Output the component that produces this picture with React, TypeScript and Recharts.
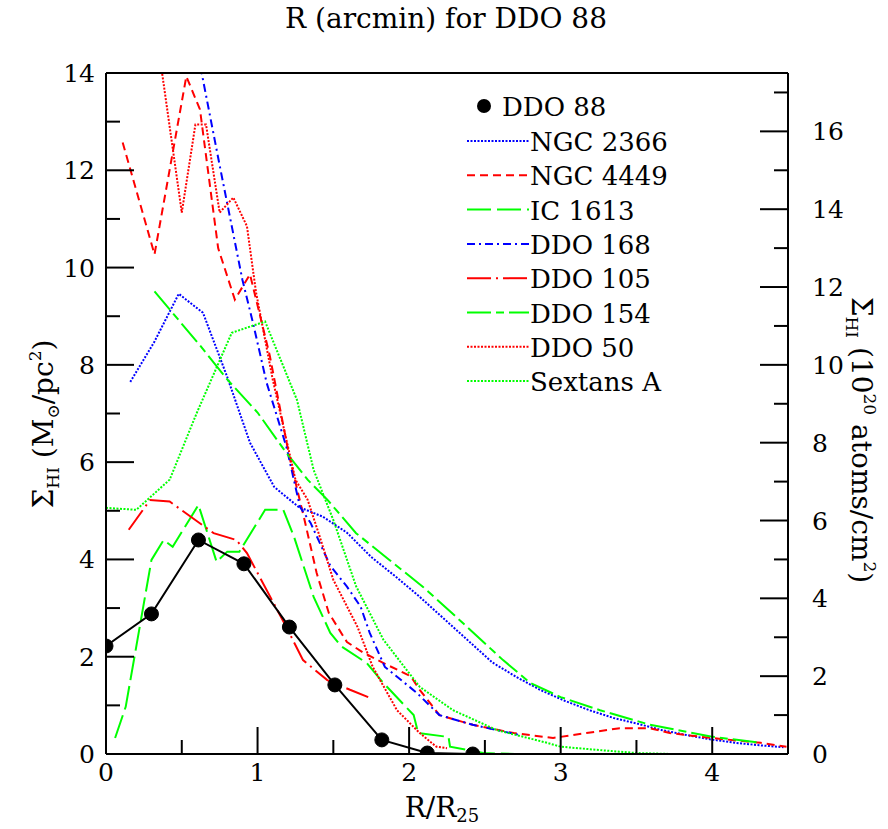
import React from "react";
import { LineChart, Line, XAxis, YAxis, Legend } from "recharts";

// R/R25 and Sigma_HI (Msun/pc^2), one pair of arrays per galaxy
const ddo88X = [0, 0.3, 0.61, 0.91, 1.21, 1.51, 1.82, 2.12, 2.42];
const ddo88Y = [2.22, 2.88, 4.4, 3.91, 2.61, 1.42, 0.29, 0.02, 0.0];

const ngc2366X = [0.16, 0.32, 0.48, 0.64, 0.8, 0.95, 1.11, 1.27, 1.43, 1.59, 1.75, 1.91, 2.07, 2.23, 2.39, 2.55, 2.71, 2.87, 3.03, 3.19, 3.35, 3.51, 3.67, 3.83, 3.99, 4.15, 4.31, 4.47];
const ngc2366Y = [7.65, 8.48, 9.46, 9.07, 7.75, 6.4, 5.49, 5.08, 4.88, 4.55, 4.05, 3.65, 3.23, 2.78, 2.33, 1.88, 1.58, 1.31, 1.09, 0.9, 0.74, 0.62, 0.49, 0.39, 0.3, 0.23, 0.18, 0.14];

const ngc4449X = [0.11, 0.32, 0.53, 0.62, 0.74, 0.85, 0.95, 1.08, 1.21, 1.31, 1.39, 1.47, 1.59, 1.7, 1.85, 2.01, 2.07, 2.2, 2.42, 2.69, 2.95, 3.17, 3.39, 3.59, 3.72, 3.99, 4.32, 4.49];
const ngc4449Y = [12.57, 10.27, 13.93, 13.25, 10.4, 9.34, 9.86, 8.2, 6.11, 4.81, 3.72, 2.9, 2.3, 2.08, 1.84, 1.6, 1.32, 0.8, 0.6, 0.43, 0.33, 0.43, 0.53, 0.53, 0.43, 0.33, 0.23, 0.15];

const ic1613X = [0.06, 0.13, 0.3, 0.38, 0.44, 0.61, 0.73, 0.8, 0.88, 1.05, 1.17, 1.24, 1.37, 1.48, 1.55, 1.72, 1.83, 2.03, 2.06, 2.26, 2.27, 2.49, 2.7, 2.88];
const ic1613Y = [0.33, 0.97, 3.99, 4.4, 4.26, 5.12, 3.95, 4.16, 4.16, 5.02, 5.02, 4.47, 3.23, 2.49, 2.22, 1.87, 1.46, 0.8, 0.43, 0.35, 0.15, 0.02, 0.0, 0.0];

const ddo168X = [0.6, 0.75, 0.9, 0.97, 1.06, 1.19, 1.28, 1.35, 1.48, 1.59, 1.68, 1.74, 1.84, 2.05, 2.2, 2.42, 2.73];
const ddo168Y = [14.5, 12.1, 9.75, 8.86, 7.63, 6.32, 5.08, 4.75, 3.87, 3.44, 3.03, 2.49, 1.79, 1.26, 0.8, 0.6, 0.39];

const ddo105X = [0.15, 0.29, 0.42, 0.71, 0.86, 0.93, 1.19, 1.3, 1.46, 1.61, 1.73];
const ddo105Y = [4.61, 5.22, 5.19, 4.54, 4.4, 4.13, 2.61, 1.93, 1.52, 1.32, 1.17];

const ddo154X = [0.32, 0.42, 0.62, 0.8, 1.0, 1.19, 1.33, 1.46, 1.65, 1.87, 2.09, 2.31, 2.62, 2.8, 3.0, 3.26, 3.59, 3.99, 4.32];
const ddo154Y = [9.51, 9.14, 8.4, 7.7, 7.02, 6.19, 5.64, 5.23, 4.54, 3.99, 3.44, 2.82, 1.93, 1.46, 1.17, 0.9, 0.6, 0.36, 0.23];

const ddo50X = [0.3, 0.5, 0.59, 0.66, 0.75, 0.84, 0.93, 0.99, 1.1, 1.25, 1.33, 1.41, 1.5, 1.66, 1.76, 1.92, 2.07, 2.18, 2.25];
const ddo50Y = [15.55, 11.13, 12.94, 12.94, 11.13, 11.44, 10.85, 9.49, 7.7, 5.64, 5.23, 4.47, 3.58, 2.61, 1.79, 0.9, 0.43, 0.15, 0.12];

const sextansX = [0.0, 0.2, 0.42, 0.6, 0.83, 1.05, 1.26, 1.37, 1.5, 1.65, 1.83, 2.07, 2.29, 2.58, 2.91, 3.0, 3.26, 3.5, 3.74];
const sextansY = [5.06, 5.02, 5.64, 7.02, 8.66, 8.89, 7.28, 5.84, 4.81, 3.45, 2.35, 1.38, 0.9, 0.49, 0.23, 0.15, 0.08, 0.02, 0.0];

// axis ticks (minor ones get no label)
const bottomTicks = [0, 0.5, 1, 1.5, 2, 2.5, 3, 3.5, 4, 4.5];
const topTicks = [0, 0.5, 1, 1.5, 2, 2.5, 3, 3.5];
const leftTicks = [0, 1, 2, 3, 4, 5, 6, 7, 8, 9, 10, 11, 12, 13, 14];
const rightTicks = [0, 1, 2, 3, 4, 5, 6, 7, 8, 9, 10, 11, 12, 13, 14, 15, 16, 17];

const FONT = "DejaVu Serif";
const FS = 26;
const TICK_FS = 25;
const TITLE_FS = 28;
const BLUE = "#0000ff";
const RED = "#ff0000";
const GREEN = "#00ff00";

const zip = (xs: number[], ys: number[]) => xs.map((x, i) => ({ x, y: ys[i] }));

const lines = [
  { name: "NGC 2366", data: zip(ngc2366X, ngc2366Y), color: BLUE, dash: "2 1.5" },
  { name: "NGC 4449", data: zip(ngc4449X, ngc4449Y), color: RED, dash: "8 5" },
  { name: "IC 1613", data: zip(ic1613X, ic1613Y), color: GREEN, dash: "24 6" },
  { name: "DDO 168", data: zip(ddo168X, ddo168Y), color: BLUE, dash: "8 4 2 4" },
  { name: "DDO 105", data: zip(ddo105X, ddo105Y), color: RED, dash: "24 5 2 5" },
  { name: "DDO 154", data: zip(ddo154X, ddo154Y), color: GREEN, dash: "24 5 8 5" },
  { name: "DDO 50", data: zip(ddo50X, ddo50Y), color: RED, dash: "2 1.5" },
  { name: "Sextans A", data: zip(sextansX, sextansY), color: GREEN, dash: "2 1.5" },
];
const ddo88 = zip(ddo88X, ddo88Y);

const isMajor = (v: number, step: number) => Math.abs(v / step - Math.round(v / step)) < 1e-6;

function BottomTick(p: any) {
  const v = p.payload.value;
  const major = isMajor(v, 1);
  return (
    <g>
      <line x1={p.x} x2={p.x} y1={p.y} y2={p.y - (major ? 27 : 14)} stroke="#000" strokeWidth={2} />
      {major && (
        <text x={p.x} y={p.y + 27} textAnchor="middle" fontFamily={FONT} fontSize={TICK_FS} fill="#000">{v}</text>
      )}
    </g>
  );
}

function TopTick(p: any) {
  const v = p.payload.value;
  const major = isMajor(v, 1);
  return (
    <g>
      <line x1={p.x} x2={p.x} y1={p.y} y2={p.y + (major ? 27 : 14)} stroke="#000" strokeWidth={2} />
      {major && (
        <text x={p.x} y={p.y - 16} textAnchor="middle" fontFamily={FONT} fontSize={TICK_FS} fill="#000">{v}</text>
      )}
    </g>
  );
}

function LeftTick(p: any) {
  const v = p.payload.value;
  const major = isMajor(v, 2);
  return (
    <g>
      <line x1={p.x} x2={p.x + (major ? 28 : 14)} y1={p.y} y2={p.y} stroke="#000" strokeWidth={2} />
      {major && (
        <text x={p.x - 11} y={p.y + 9} textAnchor="end" fontFamily={FONT} fontSize={TICK_FS} fill="#000">{v}</text>
      )}
    </g>
  );
}

function RightTick(p: any) {
  const v = p.payload.value;
  const major = isMajor(v, 2);
  return (
    <g>
      <line x1={p.x} x2={p.x - (major ? 28 : 14)} y1={p.y} y2={p.y} stroke="#000" strokeWidth={2} />
      {major && (
        <text x={p.x + 24} y={p.y + 9} textAnchor="start" fontFamily={FONT} fontSize={TICK_FS} fill="#000">{v}</text>
      )}
    </g>
  );
}

function LegendBox() {
  const rowH = 34.3;
  return (
    <svg width={270} height={320} style={{ overflow: "visible", display: "block" }}>
      <circle cx={24} cy={20} r={7} fill="#000" />
      <text x={42} y={30} fontFamily={FONT} fontSize={FS} fill="#000">DDO 88</text>
      {lines.map((s, i) => {
        const cy = 55 + i * rowH;
        return (
          <g key={s.name}>
            <line x1={7} x2={69} y1={cy} y2={cy} stroke={s.color} strokeWidth={2} strokeDasharray={s.dash} />
            <text x={70} y={cy + 10} fontFamily={FONT} fontSize={FS} fill="#000">{s.name}</text>
          </g>
        );
      })}
    </svg>
  );
}

export default function App() {
  const axisLine = { stroke: "#000", strokeWidth: 2 };
  return (
    <div style={{ position: "absolute", left: 0, top: 0, width: 888, height: 829, background: "#fff" }}>
      <LineChart width={888} height={829} margin={{ top: 40, right: 40, bottom: 40, left: 46 }}>
        <XAxis
          xAxisId="bottom" dataKey="x" type="number" domain={[0, 4.5]} allowDataOverflow
          ticks={bottomTicks} interval={0} height={35} tickSize={0} tickMargin={0}
          tickLine={false} axisLine={axisLine} tick={<BottomTick />}
        />
        <XAxis
          xAxisId="top" orientation="top" type="number" domain={[0, 3.75]} allowDataOverflow
          ticks={topTicks} interval={0} height={33} tickSize={0} tickMargin={0}
          tickLine={false} axisLine={axisLine} tick={<TopTick />}
        />
        <YAxis
          yAxisId="left" type="number" domain={[0, 14]} allowDataOverflow
          ticks={leftTicks} interval={0} width={60} tickSize={0} tickMargin={0}
          tickLine={false} axisLine={axisLine} tick={<LeftTick />}
        />
        <YAxis
          yAxisId="right" orientation="right" type="number" domain={[0, 17.5]} allowDataOverflow
          ticks={rightTicks} interval={0} width={60} tickSize={0} tickMargin={0}
          tickLine={false} axisLine={axisLine} tick={<RightTick />}
        />
        {lines.map((s) => (
          <Line
            key={s.name} xAxisId="bottom" yAxisId="left" data={s.data} dataKey="y" name={s.name}
            type="linear" stroke={s.color} strokeWidth={2} strokeDasharray={s.dash}
            dot={false} activeDot={false} isAnimationActive={false}
          />
        ))}
        <Line
          xAxisId="bottom" yAxisId="left" data={ddo88} dataKey="y" name="DDO 88"
          type="linear" stroke="#000" strokeWidth={2}
          dot={{ r: 7, fill: "#000", stroke: "#000", strokeWidth: 1 }} activeDot={false}
          isAnimationActive={false}
        />
        <Legend
          layout="horizontal" verticalAlign="middle" align="center"
          content={() => <LegendBox />}
          wrapperStyle={{ position: "absolute", left: 460, top: 86, width: 270, height: 320 }}
        />
      </LineChart>
      <svg
        width={888} height={829}
        style={{ position: "absolute", left: 0, top: 0, pointerEvents: "none" }}
        fontFamily={FONT} fontSize={TITLE_FS} fill="#000"
      >
        <text x={446} y={28} textAnchor="middle">R (arcmin) for DDO 88</text>
        <text x={442} y={817} textAnchor="middle">
          R/R<tspan fontSize={18} dy={5}>25</tspan>
        </text>
        <text x={53} y={424} textAnchor="middle" transform="rotate(-90 53 424)">
          Σ<tspan fontSize={17} dy={6}>HI</tspan>
          <tspan dy={-6}> (M</tspan>
          <tspan fontSize={17} dy={6}>⊙</tspan>
          <tspan dy={-6}>/pc</tspan>
          <tspan fontSize={17} dy={-12}>2</tspan>
          <tspan dy={12}>)</tspan>
        </text>
        <text x={852} y={440} textAnchor="middle" transform="rotate(90 852 440)">
          Σ<tspan fontSize={17} dy={6}>HI</tspan>
          <tspan dy={-6}> (10</tspan>
          <tspan fontSize={17} dy={-12}>20</tspan>
          <tspan dy={12}> atoms/cm</tspan>
          <tspan fontSize={17} dy={-12}>2</tspan>
          <tspan dy={12}>)</tspan>
        </text>
      </svg>
    </div>
  );
}
